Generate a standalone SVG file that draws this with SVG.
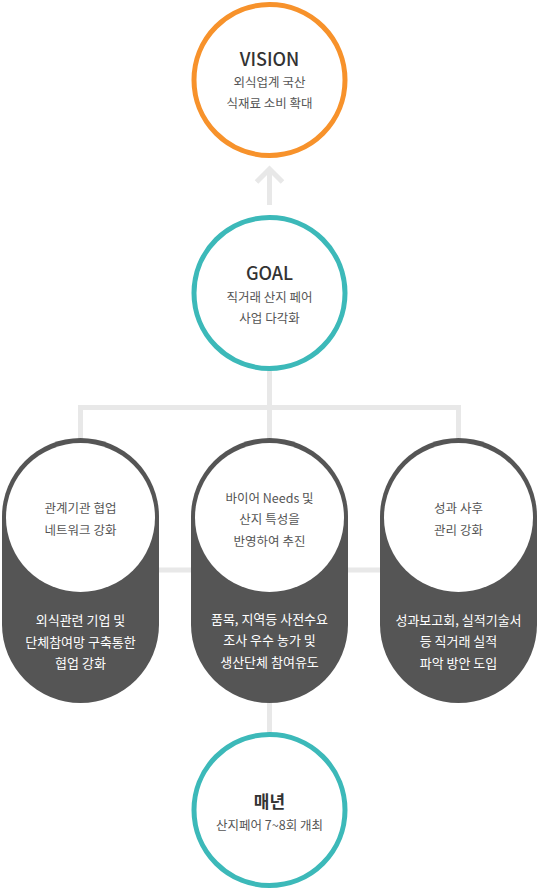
<svg xmlns="http://www.w3.org/2000/svg" width="538" height="892" viewBox="0 0 538 892">
<style>
.ln{fill:none;stroke:#e8e8e8;stroke-width:5;stroke-linejoin:miter;stroke-linecap:butt}
.ring{fill:#fff;stroke-width:5}
.t{font-family:"Noto Sans CJK KR","Noto Sans",sans-serif;text-anchor:middle}
.title{font-size:18px;font-weight:500;fill:#333}
.bold{font-weight:bold;font-size:17px}
.sub{font-size:12.5px;fill:#555}
.wt{font-size:13px;fill:#fff}
.pill{fill:#555}
</style>
<rect width="538" height="892" fill="#fff"/>
<g id="connectors">
<path class="ln" d="M269.5 205 V170"/>
<path class="ln" d="M256.5 182 L269.5 169 L282.5 182"/>
<path class="ln" d="M269.5 370 V442"/>
<path class="ln" d="M80.5 442 V407.5 H458.5 V442"/>
<path class="ln" d="M80.5 570 H458.5"/>
<path class="ln" d="M269.5 700 V736"/>
</g>
<g id="vision">
<circle class="ring" cx="269.5" cy="80" r="75.5" stroke="#f7922b"/>
<text class="t title" x="269.5" y="66">VISION</text>
<text class="t sub" x="269.5" y="87">외식업계 국산</text>
<text class="t sub" x="269.5" y="108">식재료 소비 확대</text>
</g>
<g id="goal">
<circle class="ring" cx="269.5" cy="293" r="75.5" stroke="#3cb9b9"/>
<text class="t title" x="269.5" y="280">GOAL</text>
<text class="t sub" x="269.5" y="302">직거래 산지 페어</text>
<text class="t sub" x="269.5" y="323">사업 다각화</text>
</g>
<g id="pill-left">
<rect class="pill" x="2" y="438" width="157" height="265" rx="78.5"/>
<circle cx="80.5" cy="517.5" r="74.5" fill="#fff"/>
<text class="t sub" x="80.5" y="513">관계기관 협업</text>
<text class="t sub" x="80.5" y="535">네트워크 강화</text>
<text class="t wt" x="80.5" y="625">외식관련 기업 및</text>
<text class="t wt" x="80.5" y="647">단체참여망 구축통한</text>
<text class="t wt" x="80.5" y="668">협업 강화</text>
</g>
<g id="pill-center">
<rect class="pill" x="191" y="438" width="157" height="265" rx="78.5"/>
<circle cx="269.5" cy="517.5" r="74.5" fill="#fff"/>
<text class="t sub" x="269.5" y="503">바이어 Needs 및</text>
<text class="t sub" x="269.5" y="524">산지 특성을</text>
<text class="t sub" x="269.5" y="546">반영하여 추진</text>
<text class="t wt" x="269.5" y="624">품목, 지역등 사전수요</text>
<text class="t wt" x="269.5" y="645">조사 우수 농가 및</text>
<text class="t wt" x="269.5" y="667">생산단체 참여유도</text>
</g>
<g id="pill-right">
<rect class="pill" x="380" y="438" width="157" height="265" rx="78.5"/>
<circle cx="458.5" cy="517.5" r="74.5" fill="#fff"/>
<text class="t sub" x="458.5" y="513">성과 사후</text>
<text class="t sub" x="458.5" y="535">관리 강화</text>
<text class="t wt" x="458.5" y="625">성과보고회, 실적기술서</text>
<text class="t wt" x="458.5" y="646">등 직거래 실적</text>
<text class="t wt" x="458.5" y="668">파악 방안 도입</text>
</g>
<g id="annual">
<circle class="ring" cx="269.5" cy="810" r="75.5" stroke="#3cb9b9"/>
<text class="t title bold" x="269.5" y="808">매년</text>
<text class="t sub" x="269.5" y="830">산지페어 7~8회 개최</text>
</g>
</svg>
